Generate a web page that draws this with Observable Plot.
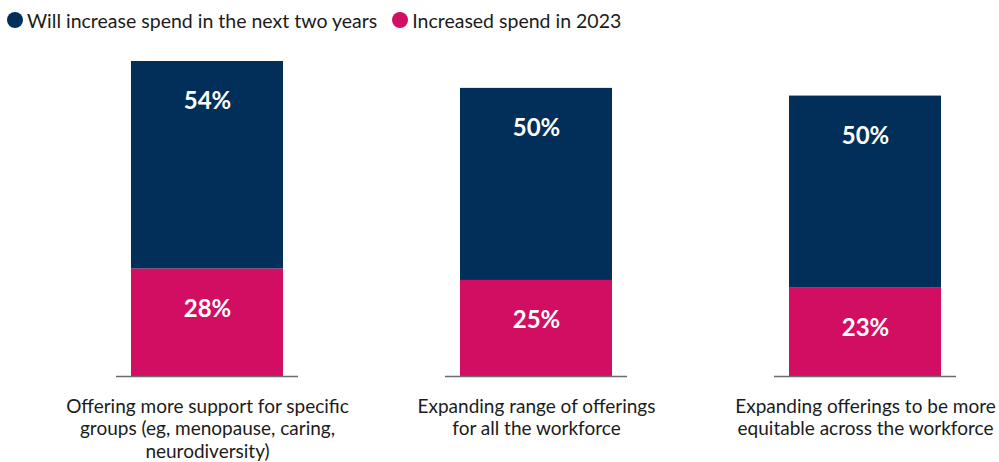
<!DOCTYPE html>
<html>
<head>
<meta charset="utf-8">
<script src="https://cdn.jsdelivr.net/npm/d3@7"></script>
<script src="https://cdn.jsdelivr.net/npm/@observablehq/plot@0.6"></script>
<style>
  body { margin: 0; background: #fff; font-family: Lato, "Open Sans", sans-serif; }
  #legend { height: 40px; display: flex; align-items: center; padding-left: 7px; font-size: 19.5px; color: #1b1b1b; }
  #legend .item { display: flex; align-items: center; margin-right: 15px; }
  #legend .dot { width: 16px; height: 16px; border-radius: 50%; margin-right: 4px; }
</style>
</head>
<body>
<div id="legend"></div>
<div id="chart"></div>
<script>
// Spending plans by initiative (% of respondents)
const categories = [
  "Offering more support for specific\ngroups (eg, menopause, caring,\nneurodiversity)",
  "Expanding range of offerings\nfor all the workforce",
  "Expanding offerings to be more\nequitable across the workforce"
];
const increasedSpend2023 = [28, 25, 23];
const willIncreaseNextTwoYears = [54, 50, 50];

const seriesNames = ["Increased spend in 2023", "Will increase spend in the next two years"];
const seriesColors = ["#d20e63", "#022f5a"];
const legendOrder = [1, 0];

// Long table for the stack: bottom segment first, then the top one
const rows = categories.flatMap((c, i) => [
  {category: c, series: seriesNames[0], value: increasedSpend2023[i]},
  {category: c, series: seriesNames[1], value: willIncreaseNextTwoYears[i]}
]);
const yMax = d3.max(categories, (c, i) => increasedSpend2023[i] + willIncreaseNextTwoYears[i]);

// Legend
const legend = d3.select("#legend");
legendOrder.forEach(k => {
  const item = legend.append("div").attr("class", "item");
  item.append("div").attr("class", "dot").style("background", seriesColors[k]);
  item.append("span").text(seriesNames[k]);
});

const stackOpts = {x: "category", y: "value", z: "series", order: seriesNames};

const chart = Plot.plot({
  width: 999,
  height: 422,
  marginTop: 21,
  marginBottom: 86,
  marginLeft: 130,
  marginRight: 58,
  style: {fontFamily: "Lato, 'Open Sans', sans-serif", background: "#fff", overflow: "visible"},
  x: {domain: categories, paddingInner: 0.539, paddingOuter: 0, label: null},
  y: {domain: [0, yMax], axis: null},
  color: {domain: seriesNames, range: seriesColors},
  marks: [
    Plot.barY(rows, Plot.stackY({...stackOpts, fill: "series"})),
    // Value labels sit a fixed distance below the top of each segment
    Plot.text(rows, Plot.stackY2({
      ...stackOpts,
      text: d => `${d.value}%`,
      fill: "#fff",
      fontSize: 24,
      fontWeight: 700,
      dy: 40
    })),
    Plot.tickY(categories, {x: d => d, y: () => 0, stroke: "#6b6b6b", strokeWidth: 1.5, insetLeft: -15, insetRight: -15}),
    Plot.axisX({
      tickSize: 0,
      tickPadding: 20,
      fontSize: 19,
      lineHeight: 1.2,
      fill: "#1b1b1b",
      lineAnchor: "top"
    })
  ]
});
document.getElementById("chart").appendChild(chart);
</script>
</body>
</html>
